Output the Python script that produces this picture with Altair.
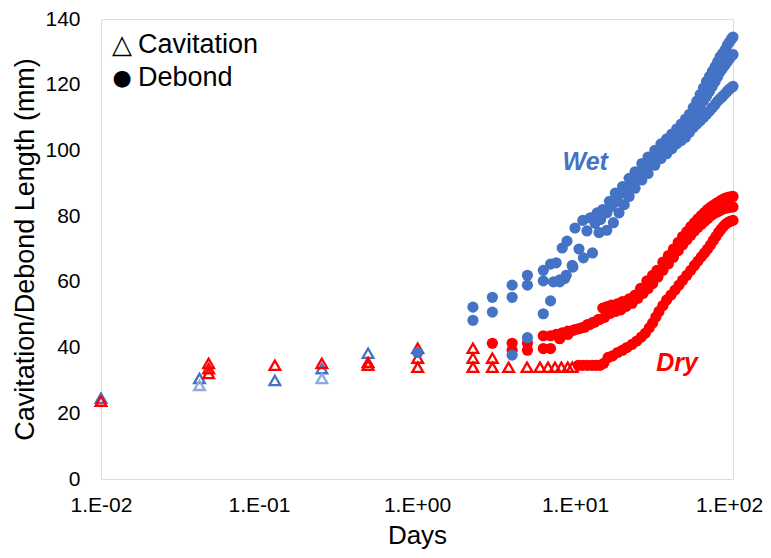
import altair as alt
import pandas as pd

# ---------------- data ----------------
TICK_VALUES = [0.01, 0.1, 1, 10, 100]
TICK_LABELS = ["1.E-02", "1.E-01", "1.E+00", "1.E+01", "1.E+02"]
Y_TICKS = [0, 20, 40, 60, 80, 100, 120, 140]

# Cavitation (hollow triangles)
CAV_DRY_X = [0.01, 0.048, 0.048, 0.048, 0.126, 0.25, 0.49, 0.49, 1.01, 1.01, 1.01,
             2.26, 2.26, 2.26, 3.0, 3.0, 3.8, 4.97, 6.0, 6.75, 7.47, 8.2, 9.0, 9.6]
CAV_DRY_Y = [23.7, 35.2, 33.6, 32.1, 34.6, 35.2, 34.6, 35.5, 39.8, 36.8, 34.0,
             39.8, 36.8, 34.0, 36.8, 34.0, 34.0, 34.0, 34.0, 34.0, 34.0, 34.0, 34.0, 34.0]
CAV_WET_X = [0.01, 0.042, 0.126, 0.25, 0.49]
CAV_WET_Y = [24.6, 30.6, 30.0, 33.6, 38.3]
CAV_WET2_X = [0.042, 0.25]
CAV_WET2_Y = [28.5, 30.6]

# Debond, wet (blue filled circles), three specimens
W1_X = [2.26, 3.0, 4.0, 5.0, 6.3, 7.0, 7.6, 8.3, 8.9, 10.0, 11.2, 12.5, 13.8, 15.0, 16.5,
        18, 20, 22, 24, 26.5, 29, 32, 35, 38, 41, 44, 47, 50, 53, 56, 59, 62, 65, 68,
        71, 74, 77, 80, 83, 86, 89, 92, 95, 98, 100]
W1_Y = [52.3, 55.3, 59.0, 62.0, 63.5, 65.4, 65.8, 70.3, 72.4, 76.4, 78.7, 79.5, 81.0, 82.0, 84.5,
        87.0, 89.0, 91.5, 93.5, 96.0, 98.0, 100.0, 102.0, 103.5, 105.0, 106.5, 108.0, 109.5, 111.0,
        113.0, 115.0, 117.0, 119.0, 121.0, 122.5, 124.0, 125.5, 127.0, 128.5, 129.5, 130.5, 132.0,
        133.0, 134.0, 134.5]
W2_X = [2.26, 3.0, 4.0, 5.0, 6.3, 7.3, 8.0, 8.6, 9.6, 10.6, 11.9, 13.4, 14.5, 15.9, 17,
        18.5, 20, 22, 24, 26.5, 29, 32, 35, 38, 41, 44, 47, 50, 53, 56, 59, 62, 65, 68,
        71, 74, 77, 80, 83, 86, 89, 92, 95, 98, 100]
W2_Y = [48.3, 50.8, 55.3, 59.0, 60.3, 60.0, 60.6, 61.0, 65.0, 70.0, 75.5, 77.8, 79.0, 81.0, 83.0,
        84.5, 87.0, 89.0, 91.0, 93.5, 95.5, 97.5, 99.5, 101.0, 103.0, 104.5, 106.0, 107.5, 109.0,
        110.5, 112.0, 113.5, 115.0, 116.5, 118.0, 119.5, 121.0, 122.5, 124.0, 125.0, 126.0, 127.0,
        128.0, 128.8, 129.2]
W3_X = [1.01, 4.0, 5.0, 6.3, 7.0, 8.0, 8.8, 9.7, 11.3, 12.9, 14.2, 15.9, 17.5, 19, 20.5,
        22, 24, 26.5, 29, 32, 35, 38, 41, 44, 47, 50, 53, 56, 59, 62, 65, 68, 71, 74,
        77, 80, 83, 86, 89, 92, 95, 98, 100]
W3_Y = [38.5, 37.7, 43.0, 50.3, 54.2, 60.0, 62.0, 64.5, 67.3, 68.8, 75.0, 75.7, 78.0, 81.0, 83.5,
        86.0, 88.5, 91.0, 93.0, 95.5, 97.5, 99.0, 100.5, 102.0, 103.0, 104.0, 105.5, 107.0, 108.0,
        109.0, 110.0, 111.0, 112.0, 113.0, 114.0, 115.0, 115.8, 116.5, 117.2, 118.0, 118.7, 119.2, 119.5]

# Debond, dry (red filled circles), three specimens
D1_X = [3.0, 4.0, 5.0, 6.3, 7.0, 7.6, 8.3, 9.0, 10, 11, 12, 13, 14, 15, 16, 17, 18.5, 20, 22,
        24, 26, 28.5, 31, 33, 36, 39, 42, 45, 48, 51, 54, 57, 60, 63, 66, 69, 72, 75, 78, 81,
        84, 87, 90, 93, 96, 100]
D1_Y = [41.3, 41.3, 41.3, 43.6, 43.6, 44.0, 44.5, 45.0, 45.5, 46.0, 47.0, 47.7, 48.5, 52.0, 52.5,
        52.9, 53.3, 54.0, 54.8, 56.0, 58.0, 60.3, 62.0, 63.5, 66.0, 68.0, 70.0, 72.0, 73.8, 75.3,
        76.8, 78.0, 79.2, 80.2, 81.1, 82.0, 82.7, 83.3, 83.8, 84.3, 84.8, 85.2, 85.5, 85.7, 85.9, 86.0]
D2_X = [4.0, 5.0, 6.3, 7.0, 8.0, 9.0, 9.7, 10.5, 11.5, 12.4, 13.3, 14.3, 15.4, 16.7, 18, 19.5,
        21, 23, 25, 27, 29, 31, 33.5, 36, 39, 42, 45, 48, 51, 54, 57, 60, 63, 66, 69, 72, 75,
        78, 81, 84, 87, 90, 93, 96, 100]
D2_Y = [39.2, 39.2, 39.7, 39.7, 42.7, 44.0, 45.2, 45.7, 46.2, 47.0, 47.7, 48.5, 49.2, 50.4, 51.0,
        51.5, 52.5, 53.5, 55.0, 56.5, 58.0, 59.5, 61.5, 63.5, 65.5, 67.5, 69.5, 71.3, 72.8, 74.2,
        75.5, 76.6, 77.5, 78.4, 79.2, 80.0, 80.6, 81.1, 81.5, 81.9, 82.2, 82.4, 82.6, 82.7, 82.8]
D3_X = [10.5, 11.2, 12, 12.8, 13.6, 14.4, 15.2, 16.2, 17.3, 18.6, 20, 21.3, 23, 24.6, 26.3, 27.9,
        29.5, 31, 32.5, 34, 36, 38, 40.5, 43, 45.5, 48, 51, 54, 57, 60, 63, 66, 69, 72, 75, 78,
        81, 84, 87, 90, 93, 96, 100]
D3_Y = [34.6, 34.6, 34.6, 34.6, 34.6, 34.6, 35.2, 37.0, 37.5, 38.5, 39.2, 40.0, 41.0, 42.0, 43.2,
        44.4, 46.0, 47.5, 49.3, 51.0, 52.8, 54.5, 56.0, 57.5, 59.0, 60.5, 62.0, 63.5, 65.0, 66.3,
        67.6, 68.8, 70.0, 71.2, 72.6, 73.8, 75.0, 76.0, 76.9, 77.6, 78.1, 78.4, 78.7]

ANNOT_TEXT = ["Wet", "Dry"]
ANNOT_X = [11.6, 44.2]
ANNOT_Y = [96.4, 35.2]
ANNOT_COLOR = ["#4472C4", "#FF0000"]

BLUE = "#4472C4"
RED = "#FF0000"
LIGHT_BLUE = "#8EA9DB"
FONT = "Liberation Sans"


def frame(xs, ys, group):
    return pd.DataFrame({"x": xs, "y": ys, "group": group})


cav = pd.concat([
    frame(CAV_WET_X, CAV_WET_Y, "wet"),
    frame(CAV_WET2_X, CAV_WET2_Y, "wet2"),
    frame(CAV_DRY_X, CAV_DRY_Y, "dry"),
], ignore_index=True)
dry = pd.concat([frame(D1_X, D1_Y, "d1"), frame(D2_X, D2_Y, "d2"), frame(D3_X, D3_Y, "d3")],
                ignore_index=True)
wet = pd.concat([frame(W1_X, W1_Y, "w1"), frame(W2_X, W2_Y, "w2"), frame(W3_X, W3_Y, "w3")],
                ignore_index=True)
annot = pd.DataFrame({"x": ANNOT_X, "y": ANNOT_Y, "t": ANNOT_TEXT, "c": ANNOT_COLOR})

W, H = 632, 460

label_expr = "[" + ",".join("'%s'" % s for s in TICK_LABELS) + "][round(log(datum.value)/LN10)+2]"

x_enc = alt.X(
    "x:Q",
    scale=alt.Scale(type="log", domain=[0.01, 100]),
    axis=alt.Axis(
        values=TICK_VALUES, labelExpr=label_expr, grid=False, ticks=False, tickSize=0,
        domain=False, labelFont=FONT, labelFontSize=21, labelColor="#000000", labelPadding=15,
        labelOffset={"condition": {"test": "datum.value >= 100", "value": -4}, "value": 0},
        title="Days", titleFont=FONT, titleFontSize=26, titleFontWeight="normal",
        titleColor="#000000", titleX=W / 2, titleY=64, titleBaseline="alphabetic",
        labelFlush=False, labelOverlap=False,
    ),
)
y_enc = alt.Y(
    "y:Q",
    scale=alt.Scale(domain=[0, 140], nice=False),
    axis=alt.Axis(
        values=Y_TICKS, grid=False, ticks=False, tickSize=0, domain=False,
        labelFont=FONT, labelFontSize=21, labelColor="#000000", labelPadding=21,
        title="Cavitation/Debond Length (mm)", titleFont=FONT, titleFontSize=27,
        titleFontWeight="normal", titleColor="#000000", titleAngle=-90,
        titleX=-76, titleY=H / 2, titleAlign="center", titleBaseline="middle",
        labelFlush=False,
    ),
)

tri = alt.Chart(cav).mark_point(shape="triangle-up", filled=False, strokeWidth=2.3, size=115, opacity=1).encode(
    x=x_enc, y=y_enc,
    color=alt.Color("group:N", scale=alt.Scale(domain=["wet", "wet2", "dry"],
                                               range=[BLUE, LIGHT_BLUE, RED]), legend=None),
)
red_pts = alt.Chart(dry).mark_circle(size=125, opacity=1, color=RED).encode(x="x:Q", y="y:Q")
blue_pts = alt.Chart(wet).mark_circle(size=125, opacity=1, color=BLUE).encode(x="x:Q", y="y:Q")

labels = alt.Chart(annot).mark_text(
    font=FONT, fontSize=25, fontWeight="bold", fontStyle="italic", align="center", baseline="middle"
).encode(x="x:Q", y="y:Q", text="t:N", color=alt.Color("c:N", scale=None))

leg_sym1 = alt.Chart(pd.DataFrame({"t": ["△"]})).mark_text(
    fontSize=26, align="center", baseline="middle", color="#000000", font="DejaVu Sans"
).encode(x=alt.value(21), y=alt.value(26), text="t:N")
leg_sym2 = alt.Chart(pd.DataFrame({"t": ["●"]})).mark_text(
    fontSize=22, align="center", baseline="middle", color="#000000", font="DejaVu Sans"
).encode(x=alt.value(21), y=alt.value(59), text="t:N")
leg_txt1 = alt.Chart(pd.DataFrame({"t": ["Cavitation"]})).mark_text(
    fontSize=27, align="left", baseline="middle", color="#000000", font=FONT
).encode(x=alt.value(37), y=alt.value(26), text="t:N")
leg_txt2 = alt.Chart(pd.DataFrame({"t": ["Debond"]})).mark_text(
    fontSize=27, align="left", baseline="middle", color="#000000", font=FONT
).encode(x=alt.value(37), y=alt.value(59), text="t:N")

chart = alt.layer(tri, red_pts, blue_pts, labels, leg_sym1, leg_sym2, leg_txt1, leg_txt2).properties(
    width=W, height=H,
    autosize=alt.AutoSizeParams(type="none"),
    padding={"left": 93, "top": 11, "right": 30, "bottom": 71},
).configure_view(stroke="#A6A6A6", strokeWidth=1.4).configure(background="white")

chart.save("out.html", embed_options={"renderer": "svg", "actions": False})
